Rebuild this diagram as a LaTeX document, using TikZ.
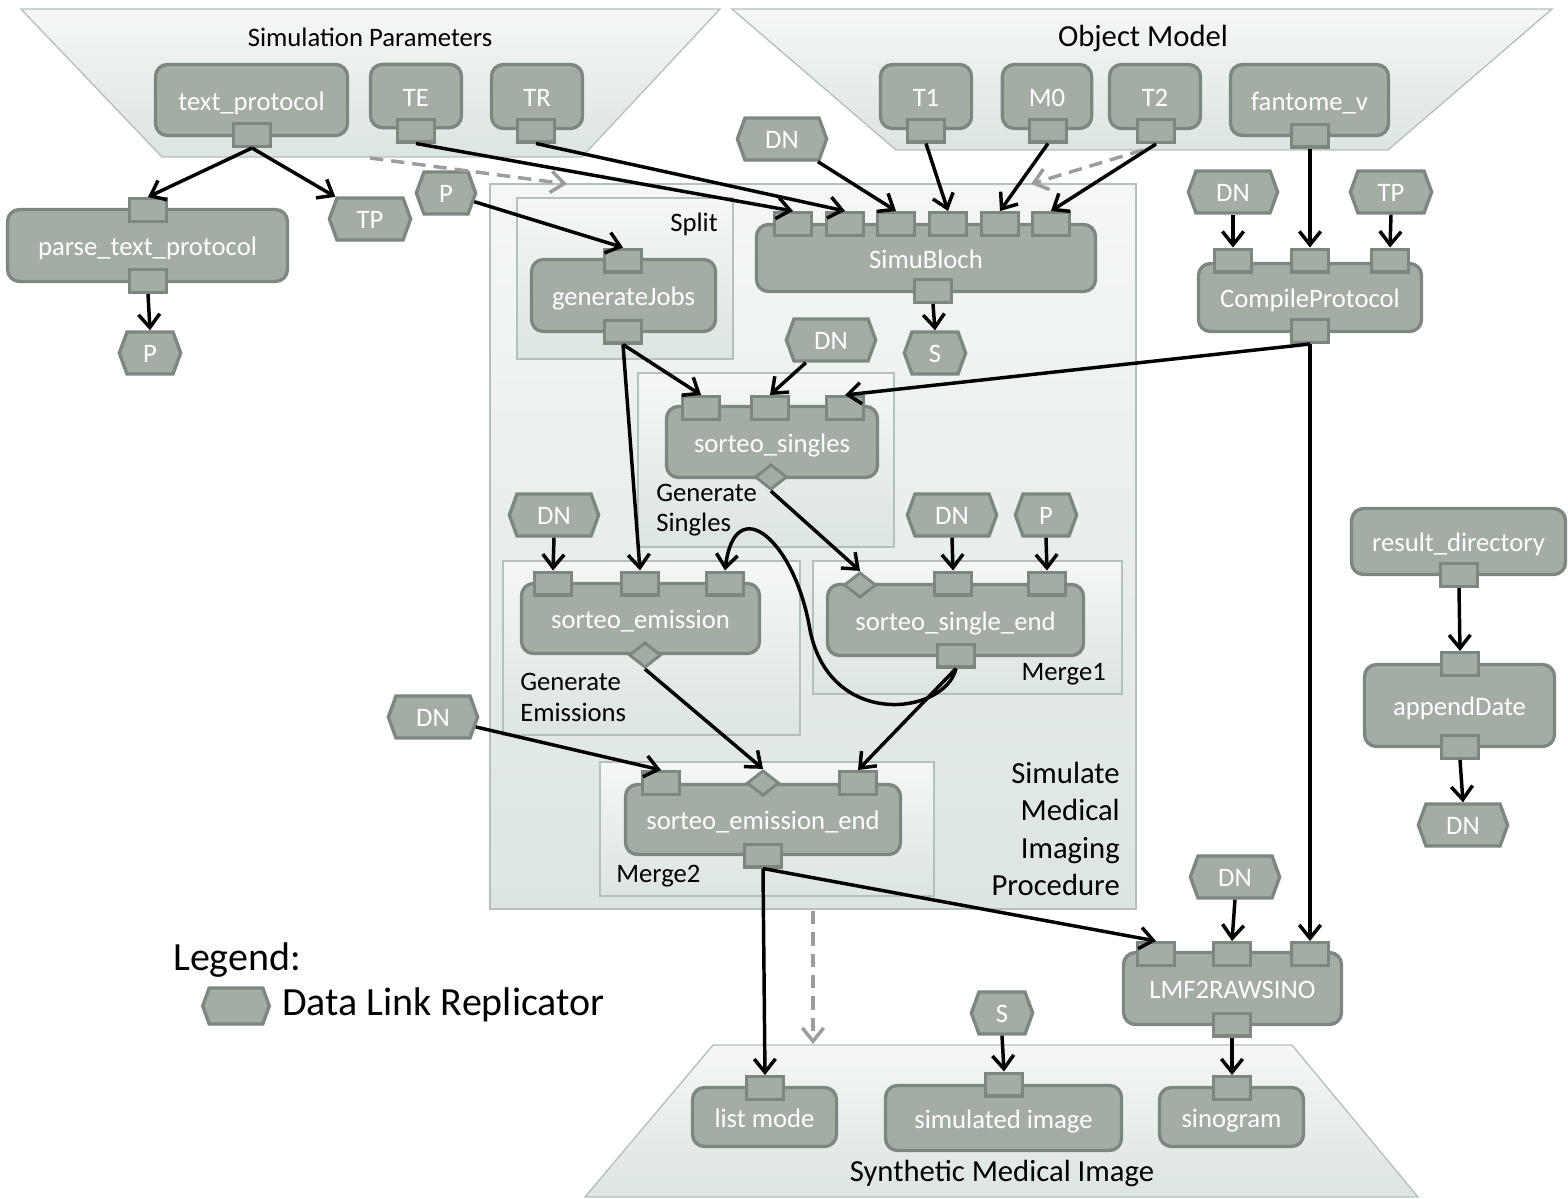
\documentclass[tikz,border=0pt]{standalone}
\usepackage{fontspec}
\setmainfont{Carlito}
\usetikzlibrary{arrows.meta,shapes.geometric,shapes.symbols}

\definecolor{boxfill}{HTML}{A3ADA4}
\definecolor{boxline}{HTML}{7C877F}
\definecolor{grpline}{HTML}{B3C1BA}
\definecolor{grptop}{HTML}{F4F7F6}
\definecolor{grpbot}{HTML}{DCE5E0}
\definecolor{ctrlgray}{HTML}{9C9C9C}

\tikzset{
  proc/.style={draw=boxline, fill=boxfill, line width=2.5pt, rounded corners=9pt,
    text=white, font=\fontsize{20}{24}\selectfont, inner sep=0pt,
    text height=15.2pt, text depth=0pt},
  port/.style={draw=boxline, fill=boxfill, line width=2.5pt,
    minimum width=27.5pt, minimum height=17pt, inner sep=0pt},
  dport/.style={diamond, draw=boxline, fill=boxfill, line width=2.2pt,
    minimum width=24pt, minimum height=19pt, inner sep=0pt},
  dlr/.style={signal, signal to=west and east, signal pointer angle=140,
    draw=boxline, fill=boxfill, line width=2.5pt, text=white,
    font=\fontsize{20}{24}\selectfont, text height=14pt, text depth=0pt,
    minimum height=31.5pt, minimum width=67pt, inner sep=0pt},
  grp/.style={draw=grpline, line width=1pt, top color=grptop, bottom color=grpbot},
  grplabel/.style={font=\fontsize{20}{23}\selectfont, inner sep=0pt},
  title/.style={font=\fontsize{23}{28}\selectfont, inner sep=0pt},
  link/.style={line width=2.6pt, -{Straight Barb[length=10pt,width=16pt]}},
  ctrl/.style={ctrlgray, line width=2.6pt, dash pattern=on 10pt off 6pt,
    -{Straight Barb[length=10pt,width=16pt]}}
}

\begin{document}
\begin{tikzpicture}[x=0.75pt,y=-0.75pt]
\useasboundingbox (0,0) rectangle (1568,1199);

% containers
\draw[grp] (21,9) -- (720,9) -- (582,157) -- (162,157) -- cycle;
\draw[grp] (732,9) -- (1552,9) -- (1388,150) -- (896,150) -- cycle;
\draw[grp] (713,1045) -- (1292,1045) -- (1418,1197) -- (585,1197) -- cycle;
\draw[grp] (490,184) rectangle (1136,909);
\draw[grp] (517,198) rectangle (733,359);
\draw[grp] (638,373) rectangle (894,547);
\draw[grp] (503,561) rectangle (800,735);
\draw[grp] (813,561) rectangle (1122,694);
\draw[grp] (600,762) rectangle (934,896);

\node[font=\fontsize{20}{24}\selectfont] (simpar) at (370,37) {Simulation Parameters};
\node[title] (objmod) at (1143,38) {Object Model};
\node[title] (synth) at (1002,1173) {Synthetic Medical Image};
\node[grplabel, anchor=east] (split) at (718,224) {Split};
\node[grplabel, anchor=west, align=left] (gensing) at (656,510) {Generate\\Singles};
\node[grplabel, anchor=west, align=left, font=\fontsize{20}{23.3}\selectfont] (genemis) at (520,697.5) {Generate\\Emissions};
\node[grplabel, anchor=east] (merge1) at (1106,674) {Merge1};
\node[grplabel, anchor=west] (merge2) at (616,876) {Merge2};
\node[title, anchor=east, align=right] (simproc) at (1120,829) {Simulate\\Medical\\Imaging\\Procedure};

% processors and data
\node[proc, minimum width=144pt, minimum height=53.3pt] (txtp) at (251.5,100) {text\_protocol};
\node[proc, minimum width=68.3pt, minimum height=47.5pt] (te) at (416,96) {TE};
\node[proc, minimum width=68.3pt, minimum height=48pt] (tr) at (537,96.5) {TR};
\node[proc, minimum width=68.3pt, minimum height=48pt] (t1) at (926,96.5) {T1};
\node[proc, minimum width=67pt, minimum height=48pt] (m0) at (1047,96.5) {M0};
\node[proc, minimum width=68.3pt, minimum height=48pt] (t2) at (1155,96.5) {T2};
\node[proc, minimum width=118.5pt, minimum height=53.3pt] (fant) at (1309.5,100) {fantome\_v};
\node[proc, minimum width=210pt, minimum height=54pt] (parse) at (147.5,245.5) {parse\_text\_protocol};
\node[proc, minimum width=254.3pt, minimum height=50.3pt] (simub) at (926,258) {SimuBloch};
\node[proc, minimum width=138pt, minimum height=54pt] (genj) at (623.5,295.5) {generateJobs};
\node[proc, minimum width=167.3pt, minimum height=51pt] (comp) at (1310,297.5) {CompileProtocol};
\node[proc, minimum width=158.3pt, minimum height=53.3pt] (ssing) at (772,442) {sorteo\_singles};
\node[proc, minimum width=178.5pt, minimum height=52.5pt] (semis) at (640.5,618.5) {sorteo\_emission};
\node[proc, minimum width=192pt, minimum height=53.3pt] (ssend) at (955.5,620) {sorteo\_single\_end};
\node[proc, minimum width=206.3pt, minimum height=52.5pt] (seend) at (763,819.5) {sorteo\_emission\_end};
\node[proc, minimum width=160.5pt, minimum height=49.5pt] (resd) at (1458.5,541.5) {result\_directory};
\node[proc, minimum width=142.5pt, minimum height=61.5pt] (appd) at (1459.5,705.5) {appendDate};
\node[proc, minimum width=163.5pt, minimum height=54pt] (lmf) at (1232.5,988.5) {LMF2RAWSINO};
\node[proc, minimum width=108pt, minimum height=44.3pt] (lmode) at (764.5,1117) {list mode};
\node[proc, minimum width=177pt, minimum height=48.8pt] (simimg) at (1003.5,1118) {simulated image};
\node[proc, minimum width=108pt, minimum height=44.3pt] (sino) at (1231.5,1117) {sinogram};

% ports
\node[port] (txtpo) at (252,135) {};
\node[port] (teo) at (416,130.5) {};
\node[port] (tro) at (536,130.5) {};
\node[port] (t1o) at (926,130.5) {};
\node[port] (m0o) at (1048,130.5) {};
\node[port] (t2o) at (1156,131) {};
\node[port] (fanto) at (1310,135.5) {};
\node[port] (parsei) at (148,210) {};
\node[port] (parseo) at (148,281) {};
\node[port] (sb1) at (793,224) {};
\node[port] (sb2) at (845,224) {};
\node[port] (sb3) at (896,224) {};
\node[port] (sb4) at (948,224) {};
\node[port] (sb5) at (1000,224) {};
\node[port] (sb6) at (1051,224) {};
\node[port] (simubo) at (933,291) {};
\node[port] (genji) at (623,260.5) {};
\node[port] (genjo) at (623,331.5) {};
\node[port] (comp1) at (1233,260.5) {};
\node[port] (comp2) at (1310,260.5) {};
\node[port] (comp3) at (1390,260.5) {};
\node[port] (compo) at (1310,331) {};
\node[port] (ss1) at (701,408) {};
\node[port] (ss2) at (770,408) {};
\node[port] (ss3) at (845,408) {};
\node[dport] (sso) at (771,477) {};
\node[port] (se1) at (553,583.5) {};
\node[port] (se2) at (640,583.5) {};
\node[port] (se3) at (725,583.5) {};
\node[dport] (seo) at (645,655) {};
\node[dport] (sse1) at (860,585) {};
\node[port] (sse2) at (953,583.5) {};
\node[port] (sse3) at (1047,583.5) {};
\node[port] (sseo) at (956,655.5) {};
\node[port] (see1) at (661,783) {};
\node[dport] (see2) at (763,783) {};
\node[port] (see3) at (858,783) {};
\node[port] (seeo) at (763,855.5) {};
\node[port] (resdo) at (1459,575) {};
\node[port] (appdi) at (1460,664) {};
\node[port] (appdo) at (1460,747) {};
\node[port] (lmf1) at (1156,954) {};
\node[port] (lmf2) at (1232,954) {};
\node[port] (lmf3) at (1310,954) {};
\node[port] (lmfo) at (1232,1024.5) {};
\node[port] (lmodei) at (765,1088) {};
\node[port] (simimgi) at (1004,1084.5) {};
\node[port] (sinoi) at (1232,1088) {};

% data link replicators
\node[dlr, minimum width=46pt] (p1) at (150,353) {P};
\node[dlr, minimum width=61pt] (tp1) at (370,219) {TP};
\node[dlr, minimum width=44.5pt] (p2) at (446,193) {P};
\node[dlr] (dn1) at (782,139) {DN};
\node[dlr, minimum width=46pt] (s1) at (935,353) {S};
\node[dlr] (dn2) at (831,340) {DN};
\node[dlr] (dn3) at (1233,192) {DN};
\node[dlr, minimum width=61pt] (tp2) at (1391,192) {TP};
\node[dlr] (dn4) at (554,515) {DN};
\node[dlr] (dn5) at (952,515) {DN};
\node[dlr, minimum width=46pt] (p3) at (1046,515) {P};
\node[dlr] (dn6) at (433,717) {DN};
\node[dlr] (dn7) at (1235,877) {DN};
\node[dlr] (dn8) at (1463,825) {DN};
\node[dlr, minimum width=46pt] (s2) at (1002,1013) {S};

% legend
\node[font=\fontsize{30}{36}\selectfont, anchor=west, inner sep=0pt] (leg) at (173,960) {Legend:};
\node[dlr, minimum width=50pt, minimum height=27pt] (leghex) at (236,1006) {};
\node[font=\fontsize{30}{36}\selectfont, anchor=west, inner sep=0pt] (legtxt) at (282,1005) {Data Link Replicator};

% control links
\coordinate (spb) at (370,158);
\coordinate (bbt) at (567,184);
\coordinate (omb) at (1143,150);
\coordinate (bbt2) at (1031,184);
\coordinate (bbb) at (813,911);
\coordinate (smt) at (813,1044);
\draw[ctrl] (spb) -- (bbt);
\draw[ctrl] (omb) -- (bbt2);
\draw[ctrl] (bbb) -- (smt);

% data links
\draw[link] (txtpo.south) -- (parsei.north);
\draw[link] (txtpo.south) -- (tp1.north west);
\draw[link] (parseo.south) -- (p1.north);
\draw[link] (teo.south) -- (sb1.north);
\draw[link] (tro.south) -- (sb2.north);
\draw[link] (dn1) -- (sb3.north);
\draw[link] (t1o.south) -- (sb4.north);
\draw[link] (m0o.south) -- (sb5.north);
\draw[link] (t2o.south) -- (sb6.north);
\draw[link] (simubo.south) -- (s1.north);
\draw[link] (p2) -- (genji.north);
\draw[link] (genjo.south) -- (ss1.north);
\draw[link] (genjo.south) -- (se2.north);
\draw[link] (dn2) -- (ss2.north);
\draw[link] (compo.south) -- (ss3.north);
\draw[link] (compo.south) -- (lmf3.north);
\draw[link] (fanto.south) -- (comp2.north);
\draw[link] (dn3.south) -- (comp1.north);
\draw[link] (tp2.south) -- (comp3.north);
\draw[link] (sso.south) -- (sse1.north);
\draw[link] (dn4.south) -- (se1.north);
\draw[link] (dn5.south) -- (sse2.north);
\draw[link] (p3.south) -- (sse3.north);
\draw[link] (sseo.south) .. controls (945,715) and (830,730) .. (810,630)
  .. controls (795,540) and (735,490) .. (se3.north);
\draw[link] (seo.south) -- (see2.north);
\draw[link] (sseo.south) -- (see3.north);
\draw[link] (dn6) -- (see1.north);
\draw[link] (seeo.south) -- (lmodei.north);
\draw[link] (seeo.south) -- (lmf1.north);
\draw[link] (dn7.south) -- (lmf2.north);
\draw[link] (lmfo.south) -- (sinoi.north);
\draw[link] (s2.south) -- (simimgi.north);
\draw[link] (resdo.south) -- (appdi.north);
\draw[link] (appdo.south) -- (dn8.north);
\end{tikzpicture}
\end{document}
